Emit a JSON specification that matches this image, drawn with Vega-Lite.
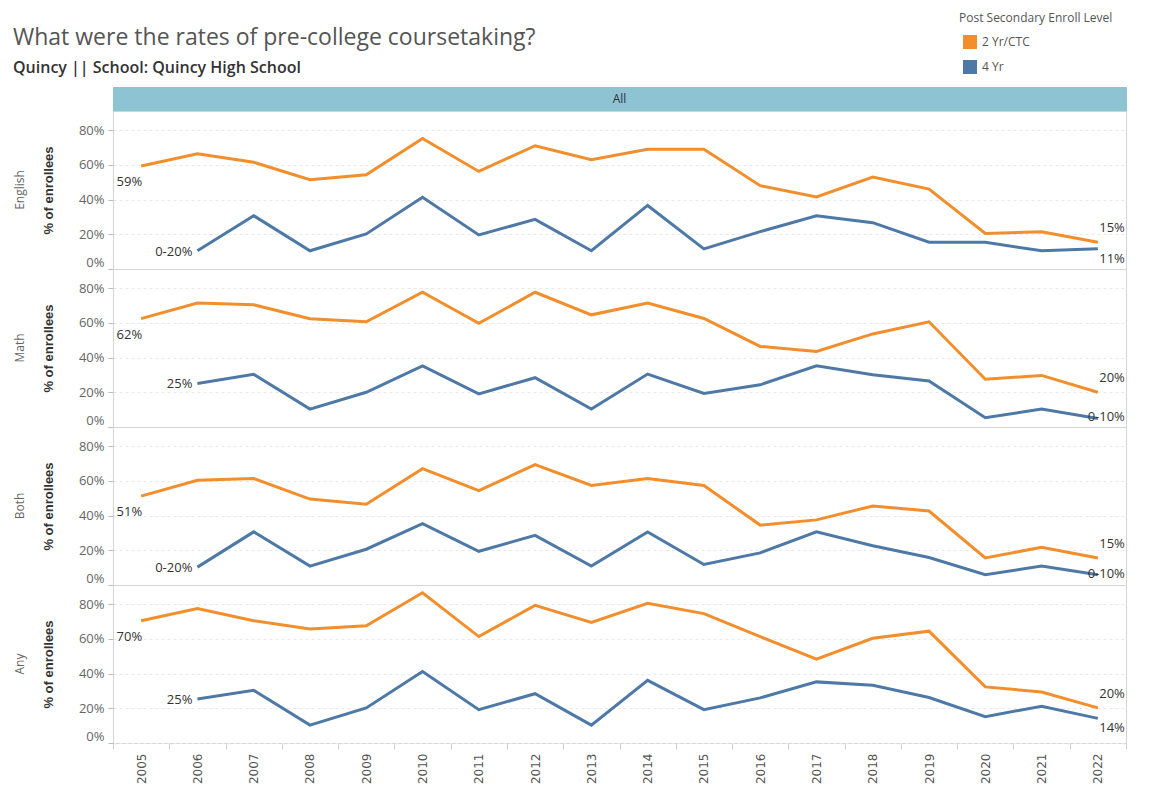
{
  "$schema": "https://vega.github.io/schema/vega-lite/v6.json",
  "padding": {"left": 12, "top": 13, "right": 5, "bottom": 5},
  "background": "white",
  "data": {
    "values": [
      {"subject": "English", "level": "2 Yr/CTC", "year": "2005", "value": 59.3, "label": "59%"},
      {"subject": "English", "level": "2 Yr/CTC", "year": "2006", "value": 66.3},
      {"subject": "English", "level": "2 Yr/CTC", "year": "2007", "value": 61.5},
      {"subject": "English", "level": "2 Yr/CTC", "year": "2008", "value": 51.4},
      {"subject": "English", "level": "2 Yr/CTC", "year": "2009", "value": 54.3},
      {"subject": "English", "level": "2 Yr/CTC", "year": "2010", "value": 75.2},
      {"subject": "English", "level": "2 Yr/CTC", "year": "2011", "value": 56.2},
      {"subject": "English", "level": "2 Yr/CTC", "year": "2012", "value": 71.0},
      {"subject": "English", "level": "2 Yr/CTC", "year": "2013", "value": 62.9},
      {"subject": "English", "level": "2 Yr/CTC", "year": "2014", "value": 69.0},
      {"subject": "English", "level": "2 Yr/CTC", "year": "2015", "value": 69.0},
      {"subject": "English", "level": "2 Yr/CTC", "year": "2016", "value": 48.0},
      {"subject": "English", "level": "2 Yr/CTC", "year": "2017", "value": 41.5},
      {"subject": "English", "level": "2 Yr/CTC", "year": "2018", "value": 53.0},
      {"subject": "English", "level": "2 Yr/CTC", "year": "2019", "value": 46.0},
      {"subject": "English", "level": "2 Yr/CTC", "year": "2020", "value": 20.5},
      {"subject": "English", "level": "2 Yr/CTC", "year": "2021", "value": 21.5},
      {"subject": "English", "level": "2 Yr/CTC", "year": "2022", "value": 15.4, "label": "15%"},
      {"subject": "English", "level": "4 Yr", "year": "2006", "value": 10.5, "label": "0-20%"},
      {"subject": "English", "level": "4 Yr", "year": "2007", "value": 30.7},
      {"subject": "English", "level": "4 Yr", "year": "2008", "value": 10.5},
      {"subject": "English", "level": "4 Yr", "year": "2009", "value": 20.2},
      {"subject": "English", "level": "4 Yr", "year": "2010", "value": 41.3},
      {"subject": "English", "level": "4 Yr", "year": "2011", "value": 19.6},
      {"subject": "English", "level": "4 Yr", "year": "2012", "value": 28.6},
      {"subject": "English", "level": "4 Yr", "year": "2013", "value": 10.5},
      {"subject": "English", "level": "4 Yr", "year": "2014", "value": 36.6},
      {"subject": "English", "level": "4 Yr", "year": "2015", "value": 11.6},
      {"subject": "English", "level": "4 Yr", "year": "2016", "value": 21.5},
      {"subject": "English", "level": "4 Yr", "year": "2017", "value": 30.7},
      {"subject": "English", "level": "4 Yr", "year": "2018", "value": 26.7},
      {"subject": "English", "level": "4 Yr", "year": "2019", "value": 15.4},
      {"subject": "English", "level": "4 Yr", "year": "2020", "value": 15.4},
      {"subject": "English", "level": "4 Yr", "year": "2021", "value": 10.5},
      {"subject": "English", "level": "4 Yr", "year": "2022", "value": 11.6, "label": "11%"},

      {"subject": "Math", "level": "2 Yr/CTC", "year": "2005", "value": 62.4, "label": "62%"},
      {"subject": "Math", "level": "2 Yr/CTC", "year": "2006", "value": 71.4},
      {"subject": "Math", "level": "2 Yr/CTC", "year": "2007", "value": 70.4},
      {"subject": "Math", "level": "2 Yr/CTC", "year": "2008", "value": 62.4},
      {"subject": "Math", "level": "2 Yr/CTC", "year": "2009", "value": 60.6},
      {"subject": "Math", "level": "2 Yr/CTC", "year": "2010", "value": 77.6},
      {"subject": "Math", "level": "2 Yr/CTC", "year": "2011", "value": 59.7},
      {"subject": "Math", "level": "2 Yr/CTC", "year": "2012", "value": 77.6},
      {"subject": "Math", "level": "2 Yr/CTC", "year": "2013", "value": 64.6},
      {"subject": "Math", "level": "2 Yr/CTC", "year": "2014", "value": 71.4},
      {"subject": "Math", "level": "2 Yr/CTC", "year": "2015", "value": 62.5},
      {"subject": "Math", "level": "2 Yr/CTC", "year": "2016", "value": 46.4},
      {"subject": "Math", "level": "2 Yr/CTC", "year": "2017", "value": 43.5},
      {"subject": "Math", "level": "2 Yr/CTC", "year": "2018", "value": 53.6},
      {"subject": "Math", "level": "2 Yr/CTC", "year": "2019", "value": 60.6},
      {"subject": "Math", "level": "2 Yr/CTC", "year": "2020", "value": 27.5},
      {"subject": "Math", "level": "2 Yr/CTC", "year": "2021", "value": 29.7},
      {"subject": "Math", "level": "2 Yr/CTC", "year": "2022", "value": 20.0, "label": "20%"},
      {"subject": "Math", "level": "4 Yr", "year": "2006", "value": 25.1, "label": "25%"},
      {"subject": "Math", "level": "4 Yr", "year": "2007", "value": 30.3},
      {"subject": "Math", "level": "4 Yr", "year": "2008", "value": 10.3},
      {"subject": "Math", "level": "4 Yr", "year": "2009", "value": 20.0},
      {"subject": "Math", "level": "4 Yr", "year": "2010", "value": 35.2},
      {"subject": "Math", "level": "4 Yr", "year": "2011", "value": 19.1},
      {"subject": "Math", "level": "4 Yr", "year": "2012", "value": 28.4},
      {"subject": "Math", "level": "4 Yr", "year": "2013", "value": 10.3},
      {"subject": "Math", "level": "4 Yr", "year": "2014", "value": 30.5},
      {"subject": "Math", "level": "4 Yr", "year": "2015", "value": 19.3},
      {"subject": "Math", "level": "4 Yr", "year": "2016", "value": 24.3},
      {"subject": "Math", "level": "4 Yr", "year": "2017", "value": 35.3},
      {"subject": "Math", "level": "4 Yr", "year": "2018", "value": 30.1},
      {"subject": "Math", "level": "4 Yr", "year": "2019", "value": 26.5},
      {"subject": "Math", "level": "4 Yr", "year": "2020", "value": 5.3},
      {"subject": "Math", "level": "4 Yr", "year": "2021", "value": 10.3},
      {"subject": "Math", "level": "4 Yr", "year": "2022", "value": 4.9, "label": "0-10%"},

      {"subject": "Both", "level": "2 Yr/CTC", "year": "2005", "value": 51.2, "label": "51%"},
      {"subject": "Both", "level": "2 Yr/CTC", "year": "2006", "value": 60.3},
      {"subject": "Both", "level": "2 Yr/CTC", "year": "2007", "value": 61.3},
      {"subject": "Both", "level": "2 Yr/CTC", "year": "2008", "value": 49.5},
      {"subject": "Both", "level": "2 Yr/CTC", "year": "2009", "value": 46.5},
      {"subject": "Both", "level": "2 Yr/CTC", "year": "2010", "value": 67.0},
      {"subject": "Both", "level": "2 Yr/CTC", "year": "2011", "value": 54.3},
      {"subject": "Both", "level": "2 Yr/CTC", "year": "2012", "value": 69.3},
      {"subject": "Both", "level": "2 Yr/CTC", "year": "2013", "value": 57.3},
      {"subject": "Both", "level": "2 Yr/CTC", "year": "2014", "value": 61.3},
      {"subject": "Both", "level": "2 Yr/CTC", "year": "2015", "value": 57.3},
      {"subject": "Both", "level": "2 Yr/CTC", "year": "2016", "value": 34.5},
      {"subject": "Both", "level": "2 Yr/CTC", "year": "2017", "value": 37.5},
      {"subject": "Both", "level": "2 Yr/CTC", "year": "2018", "value": 45.5},
      {"subject": "Both", "level": "2 Yr/CTC", "year": "2019", "value": 42.6},
      {"subject": "Both", "level": "2 Yr/CTC", "year": "2020", "value": 15.6},
      {"subject": "Both", "level": "2 Yr/CTC", "year": "2021", "value": 21.7},
      {"subject": "Both", "level": "2 Yr/CTC", "year": "2022", "value": 15.6, "label": "15%"},
      {"subject": "Both", "level": "4 Yr", "year": "2006", "value": 10.3, "label": "0-20%"},
      {"subject": "Both", "level": "4 Yr", "year": "2007", "value": 30.6},
      {"subject": "Both", "level": "4 Yr", "year": "2008", "value": 10.9},
      {"subject": "Both", "level": "4 Yr", "year": "2009", "value": 20.6},
      {"subject": "Both", "level": "4 Yr", "year": "2010", "value": 35.4},
      {"subject": "Both", "level": "4 Yr", "year": "2011", "value": 19.4},
      {"subject": "Both", "level": "4 Yr", "year": "2012", "value": 28.6},
      {"subject": "Both", "level": "4 Yr", "year": "2013", "value": 10.9},
      {"subject": "Both", "level": "4 Yr", "year": "2014", "value": 30.6},
      {"subject": "Both", "level": "4 Yr", "year": "2015", "value": 11.8},
      {"subject": "Both", "level": "4 Yr", "year": "2016", "value": 18.5},
      {"subject": "Both", "level": "4 Yr", "year": "2017", "value": 30.6},
      {"subject": "Both", "level": "4 Yr", "year": "2018", "value": 22.6},
      {"subject": "Both", "level": "4 Yr", "year": "2019", "value": 15.8},
      {"subject": "Both", "level": "4 Yr", "year": "2020", "value": 5.9},
      {"subject": "Both", "level": "4 Yr", "year": "2021", "value": 10.9},
      {"subject": "Both", "level": "4 Yr", "year": "2022", "value": 5.9, "label": "0-10%"},

      {"subject": "Any", "level": "2 Yr/CTC", "year": "2005", "value": 70.4, "label": "70%"},
      {"subject": "Any", "level": "2 Yr/CTC", "year": "2006", "value": 77.4},
      {"subject": "Any", "level": "2 Yr/CTC", "year": "2007", "value": 70.4},
      {"subject": "Any", "level": "2 Yr/CTC", "year": "2008", "value": 65.6},
      {"subject": "Any", "level": "2 Yr/CTC", "year": "2009", "value": 67.5},
      {"subject": "Any", "level": "2 Yr/CTC", "year": "2010", "value": 86.5},
      {"subject": "Any", "level": "2 Yr/CTC", "year": "2011", "value": 61.3},
      {"subject": "Any", "level": "2 Yr/CTC", "year": "2012", "value": 79.3},
      {"subject": "Any", "level": "2 Yr/CTC", "year": "2013", "value": 69.5},
      {"subject": "Any", "level": "2 Yr/CTC", "year": "2014", "value": 80.5},
      {"subject": "Any", "level": "2 Yr/CTC", "year": "2015", "value": 74.5},
      {"subject": "Any", "level": "2 Yr/CTC", "year": "2016", "value": 61.3},
      {"subject": "Any", "level": "2 Yr/CTC", "year": "2017", "value": 48.3},
      {"subject": "Any", "level": "2 Yr/CTC", "year": "2018", "value": 60.3},
      {"subject": "Any", "level": "2 Yr/CTC", "year": "2019", "value": 64.4},
      {"subject": "Any", "level": "2 Yr/CTC", "year": "2020", "value": 32.3},
      {"subject": "Any", "level": "2 Yr/CTC", "year": "2021", "value": 29.4},
      {"subject": "Any", "level": "2 Yr/CTC", "year": "2022", "value": 20.2, "label": "20%"},
      {"subject": "Any", "level": "4 Yr", "year": "2006", "value": 25.3, "label": "25%"},
      {"subject": "Any", "level": "4 Yr", "year": "2007", "value": 30.3},
      {"subject": "Any", "level": "4 Yr", "year": "2008", "value": 10.3},
      {"subject": "Any", "level": "4 Yr", "year": "2009", "value": 20.2},
      {"subject": "Any", "level": "4 Yr", "year": "2010", "value": 41.2},
      {"subject": "Any", "level": "4 Yr", "year": "2011", "value": 19.2},
      {"subject": "Any", "level": "4 Yr", "year": "2012", "value": 28.4},
      {"subject": "Any", "level": "4 Yr", "year": "2013", "value": 10.3},
      {"subject": "Any", "level": "4 Yr", "year": "2014", "value": 36.1},
      {"subject": "Any", "level": "4 Yr", "year": "2015", "value": 19.2},
      {"subject": "Any", "level": "4 Yr", "year": "2016", "value": 26.0},
      {"subject": "Any", "level": "4 Yr", "year": "2017", "value": 35.2},
      {"subject": "Any", "level": "4 Yr", "year": "2018", "value": 33.2},
      {"subject": "Any", "level": "4 Yr", "year": "2019", "value": 26.2},
      {"subject": "Any", "level": "4 Yr", "year": "2020", "value": 15.2},
      {"subject": "Any", "level": "4 Yr", "year": "2021", "value": 21.2},
      {"subject": "Any", "level": "4 Yr", "year": "2022", "value": 14.2, "label": "14%"}
    ]
  },
  "spacing": 0,
  "bounds": "flush",
  "vconcat": [
    {
      "width": 1013,
      "height": 24,
      "title": {
        "text": "What were the rates of pre-college coursetaking?",
        "subtitle": "Quincy  ||  School:  Quincy High School",
        "anchor": "start",
        "frame": "group",
        "dx": -100,
        "font": "Open Sans",
        "fontSize": 23,
        "fontWeight": "normal",
        "color": "#555555",
        "subtitleFont": "Open Sans",
        "subtitleFontSize": 16,
        "subtitleFontWeight": 600,
        "subtitleColor": "#333333",
        "subtitlePadding": 10,
        "offset": 11
      },
      "data": {"values": [{"header": "All"}]},
      "view": {"fill": "#8dc3d3", "stroke": "#8dc3d3"},
      "mark": {"type": "text", "fontSize": 12, "color": "#333333", "font": "Open Sans"},
      "encoding": {"text": {"field": "header", "type": "nominal"}}
    },
    {
      "width": 1013,
      "height": 158,
      "title": {"text": "English", "orient": "left", "fontSize": 12, "fontWeight": "normal", "color": "#666666", "font": "Open Sans", "offset": 15},
      "transform": [{"filter": "datum.subject == 'English'"}],
      "encoding": {
        "x": {"field": "year", "type": "ordinal", "bandPosition": 0.5, "scale": {"type": "band", "paddingInner": 0, "paddingOuter": 0}, "axis": null},
        "y": {"field": "value", "type": "quantitative", "scale": {"domain": [0, 91], "nice": false}, "axis": {"values": [0, 20, 40, 60, 80], "labelExpr": "datum.value + '%'", "title": "% of enrollees"}}
      },
      "layer": [
        {"mark": {"type": "line", "strokeWidth": 3}, "encoding": {"color": {"field": "level", "type": "nominal", "scale": {"domain": ["2 Yr/CTC", "4 Yr"], "range": ["#f28e2b", "#4e79a7"]}, "title": "Post Secondary Enroll Level"}}},
        {"transform": [{"filter": "datum.label && datum.year == '2005'"}], "mark": {"type": "text", "align": "right", "baseline": "middle", "dx": 1, "dy": 16}, "encoding": {"text": {"field": "label"}}},
        {"transform": [{"filter": "datum.label && datum.year == '2006'"}], "mark": {"type": "text", "align": "right", "baseline": "middle", "dx": -5, "dy": 1}, "encoding": {"text": {"field": "label"}}},
        {"transform": [{"filter": "datum.label && datum.year == '2022' && datum.level == '2 Yr/CTC'"}], "mark": {"type": "text", "align": "right", "baseline": "bottom", "dx": 27, "dy": -7}, "encoding": {"text": {"field": "label"}}},
        {"transform": [{"filter": "datum.label && datum.year == '2022' && datum.level == '4 Yr' && datum.label != '0-10%'"}], "mark": {"type": "text", "align": "right", "baseline": "top", "dx": 27, "dy": 4}, "encoding": {"text": {"field": "label"}}},
        {"transform": [{"filter": "datum.label == '0-10%'"}], "mark": {"type": "text", "align": "right", "baseline": "middle", "dx": 27, "dy": -1}, "encoding": {"text": {"field": "label"}}}
      ]
    },
    {
      "width": 1013,
      "height": 158,
      "title": {"text": "Math", "orient": "left", "fontSize": 12, "fontWeight": "normal", "color": "#666666", "font": "Open Sans", "offset": 15},
      "transform": [{"filter": "datum.subject == 'Math'"}],
      "encoding": {
        "x": {"field": "year", "type": "ordinal", "bandPosition": 0.5, "scale": {"type": "band", "paddingInner": 0, "paddingOuter": 0}, "axis": null},
        "y": {"field": "value", "type": "quantitative", "scale": {"domain": [0, 91], "nice": false}, "axis": {"values": [0, 20, 40, 60, 80], "labelExpr": "datum.value + '%'", "title": "% of enrollees"}}
      },
      "layer": [
        {"mark": {"type": "line", "strokeWidth": 3}, "encoding": {"color": {"field": "level", "type": "nominal", "scale": {"domain": ["2 Yr/CTC", "4 Yr"], "range": ["#f28e2b", "#4e79a7"]}, "title": "Post Secondary Enroll Level"}}},
        {"transform": [{"filter": "datum.label && datum.year == '2005'"}], "mark": {"type": "text", "align": "right", "baseline": "middle", "dx": 1, "dy": 16}, "encoding": {"text": {"field": "label"}}},
        {"transform": [{"filter": "datum.label && datum.year == '2006'"}], "mark": {"type": "text", "align": "right", "baseline": "middle", "dx": -5, "dy": 1}, "encoding": {"text": {"field": "label"}}},
        {"transform": [{"filter": "datum.label && datum.year == '2022' && datum.level == '2 Yr/CTC'"}], "mark": {"type": "text", "align": "right", "baseline": "bottom", "dx": 27, "dy": -7}, "encoding": {"text": {"field": "label"}}},
        {"transform": [{"filter": "datum.label && datum.year == '2022' && datum.level == '4 Yr' && datum.label != '0-10%'"}], "mark": {"type": "text", "align": "right", "baseline": "top", "dx": 27, "dy": 4}, "encoding": {"text": {"field": "label"}}},
        {"transform": [{"filter": "datum.label == '0-10%'"}], "mark": {"type": "text", "align": "right", "baseline": "middle", "dx": 27, "dy": -1}, "encoding": {"text": {"field": "label"}}}
      ]
    },
    {
      "width": 1013,
      "height": 158,
      "title": {"text": "Both", "orient": "left", "fontSize": 12, "fontWeight": "normal", "color": "#666666", "font": "Open Sans", "offset": 15},
      "transform": [{"filter": "datum.subject == 'Both'"}],
      "encoding": {
        "x": {"field": "year", "type": "ordinal", "bandPosition": 0.5, "scale": {"type": "band", "paddingInner": 0, "paddingOuter": 0}, "axis": null},
        "y": {"field": "value", "type": "quantitative", "scale": {"domain": [0, 91], "nice": false}, "axis": {"values": [0, 20, 40, 60, 80], "labelExpr": "datum.value + '%'", "title": "% of enrollees"}}
      },
      "layer": [
        {"mark": {"type": "line", "strokeWidth": 3}, "encoding": {"color": {"field": "level", "type": "nominal", "scale": {"domain": ["2 Yr/CTC", "4 Yr"], "range": ["#f28e2b", "#4e79a7"]}, "title": "Post Secondary Enroll Level"}}},
        {"transform": [{"filter": "datum.label && datum.year == '2005'"}], "mark": {"type": "text", "align": "right", "baseline": "middle", "dx": 1, "dy": 16}, "encoding": {"text": {"field": "label"}}},
        {"transform": [{"filter": "datum.label && datum.year == '2006'"}], "mark": {"type": "text", "align": "right", "baseline": "middle", "dx": -5, "dy": 1}, "encoding": {"text": {"field": "label"}}},
        {"transform": [{"filter": "datum.label && datum.year == '2022' && datum.level == '2 Yr/CTC'"}], "mark": {"type": "text", "align": "right", "baseline": "bottom", "dx": 27, "dy": -7}, "encoding": {"text": {"field": "label"}}},
        {"transform": [{"filter": "datum.label && datum.year == '2022' && datum.level == '4 Yr' && datum.label != '0-10%'"}], "mark": {"type": "text", "align": "right", "baseline": "top", "dx": 27, "dy": 4}, "encoding": {"text": {"field": "label"}}},
        {"transform": [{"filter": "datum.label == '0-10%'"}], "mark": {"type": "text", "align": "right", "baseline": "middle", "dx": 27, "dy": -1}, "encoding": {"text": {"field": "label"}}}
      ]
    },
    {
      "width": 1013,
      "height": 158,
      "title": {"text": "Any", "orient": "left", "fontSize": 12, "fontWeight": "normal", "color": "#666666", "font": "Open Sans", "offset": 15},
      "transform": [{"filter": "datum.subject == 'Any'"}],
      "encoding": {
        "x": {"field": "year", "type": "ordinal", "bandPosition": 0.5, "scale": {"type": "band", "paddingInner": 0, "paddingOuter": 0}, "axis": {"title": null, "labelAngle": 270, "labelAlign": "right", "labelBaseline": "middle", "tickBand": "extent", "tickSize": 6, "labelPadding": 4, "domain": false, "labelFontSize": 12, "labelColor": "#555555", "tickColor": "#d0d0d0", "labelFont": "DejaVu Sans"}},
        "y": {"field": "value", "type": "quantitative", "scale": {"domain": [0, 91], "nice": false}, "axis": {"values": [0, 20, 40, 60, 80], "labelExpr": "datum.value + '%'", "title": "% of enrollees"}}
      },
      "layer": [
        {"mark": {"type": "line", "strokeWidth": 3}, "encoding": {"color": {"field": "level", "type": "nominal", "scale": {"domain": ["2 Yr/CTC", "4 Yr"], "range": ["#f28e2b", "#4e79a7"]}, "title": "Post Secondary Enroll Level"}}},
        {"transform": [{"filter": "datum.label && datum.year == '2005'"}], "mark": {"type": "text", "align": "right", "baseline": "middle", "dx": 1, "dy": 16}, "encoding": {"text": {"field": "label"}}},
        {"transform": [{"filter": "datum.label && datum.year == '2006'"}], "mark": {"type": "text", "align": "right", "baseline": "middle", "dx": -5, "dy": 1}, "encoding": {"text": {"field": "label"}}},
        {"transform": [{"filter": "datum.label && datum.year == '2022' && datum.level == '2 Yr/CTC'"}], "mark": {"type": "text", "align": "right", "baseline": "bottom", "dx": 27, "dy": -7}, "encoding": {"text": {"field": "label"}}},
        {"transform": [{"filter": "datum.label && datum.year == '2022' && datum.level == '4 Yr' && datum.label != '0-10%'"}], "mark": {"type": "text", "align": "right", "baseline": "top", "dx": 27, "dy": 4}, "encoding": {"text": {"field": "label"}}},
        {"transform": [{"filter": "datum.label == '0-10%'"}], "mark": {"type": "text", "align": "right", "baseline": "middle", "dx": 27, "dy": -1}, "encoding": {"text": {"field": "label"}}}
      ]
    }
  ],
  "resolve": {"scale": {"color": "shared"}},
  "config": {
    "font": "Open Sans",
    "view": {"stroke": "#d4d4d4", "strokeWidth": 1},
    "text": {"fontSize": 13, "color": "#333333", "font": "Open Sans"},
    "axisY": {
      "labelFontSize": 13,
      "labelColor": "#666666",
      "labelFont": "Open Sans",
      "labelPadding": 4,
      "labelFlush": true,
      "tickSize": 5,
      "tickColor": "#bbbbbb",
      "domain": false,
      "grid": true,
      "gridDash": [3, 3],
      "gridColor": "#e8e8e8",
      "titleFont": "Liberation Sans",
      "titleFontSize": 13,
      "titleFontWeight": "bold",
      "titleColor": "#333333",
      "titlePadding": 23
    },
    "legend": {
      "orient": "none",
      "legendX": 846,
      "legendY": -74,
      "titleFont": "Open Sans",
      "titleFontSize": 12,
      "titleFontWeight": "normal",
      "titleColor": "#555555",
      "labelFont": "Open Sans",
      "labelFontSize": 12,
      "labelColor": "#555555",
      "symbolType": "square",
      "symbolSize": 49,
      "symbolStrokeWidth": 7,
      "symbolOpacity": 1,
      "symbolOffset": 4,
      "rowPadding": -13,
      "titlePadding": 10,
      "labelOffset": 5
    }
  }
}
